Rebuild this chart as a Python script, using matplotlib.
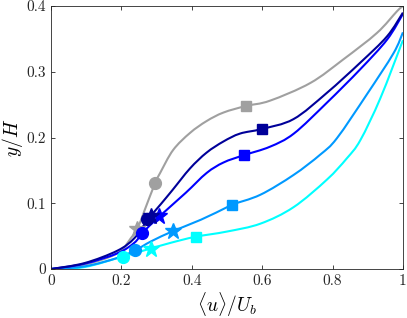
import numpy as np
import matplotlib
matplotlib.use("Agg")
import matplotlib.pyplot as plt
from matplotlib.path import Path
from matplotlib.patches import PathPatch

plt.rcParams["mathtext.fontset"] = "cm"
plt.rcParams["font.family"] = "serif"
plt.rcParams["font.serif"] = ["cmr10"]
plt.rcParams["axes.formatter.use_mathtext"] = True

# curve data: (u/Ub, y/H)
gray_x = [0, 0.095, 0.189, 0.227, 0.246, 0.265, 0.296, 0.310, 0.347, 0.395, 0.442, 0.490, 0.554, 0.622, 0.737, 0.831, 0.926, 0.983, 1.0]
gray_y = [0, 0.0066, 0.024, 0.047, 0.062, 0.088, 0.131, 0.146, 0.181, 0.207, 0.225, 0.238, 0.248, 0.256, 0.283, 0.319, 0.359, 0.392, 0.4]

navy_x = [0, 0.095, 0.189, 0.237, 0.275, 0.3125, 0.345, 0.395, 0.442, 0.490, 0.537, 0.599, 0.689, 0.784, 0.879, 0.955, 1.0]
navy_y = [0, 0.009, 0.028, 0.047, 0.075, 0.099, 0.120, 0.153, 0.177, 0.194, 0.206, 0.213, 0.228, 0.268, 0.314, 0.354, 0.39]

blue_x = [0, 0.095, 0.189, 0.237, 0.260, 0.308, 0.383, 0.442, 0.490, 0.547, 0.622, 0.690, 0.784, 0.879, 0.955, 1.0]
blue_y = [0, 0.008, 0.024, 0.040, 0.055, 0.080, 0.116, 0.146, 0.162, 0.173, 0.186, 0.206, 0.253, 0.304, 0.349, 0.388]

dodger_x = [0, 0.095, 0.189, 0.241, 0.284, 0.348, 0.426, 0.5, 0.514, 0.595, 0.689, 0.765, 0.8125, 0.898, 0.973, 1.0]
dodger_y = [0, 0.004, 0.017, 0.029, 0.042, 0.058, 0.075, 0.094, 0.098, 0.113, 0.143, 0.174, 0.199, 0.266, 0.328, 0.36]

cyan_x = [0, 0.095, 0.204, 0.282, 0.341, 0.410, 0.5, 0.595, 0.689, 0.784, 0.84, 0.879, 0.936, 1.0]
cyan_y = [0, 0.003, 0.019, 0.031, 0.040, 0.049, 0.057, 0.069, 0.094, 0.136, 0.168, 0.196, 0.260, 0.348]

# marker points: circle, star, square
gray_pts = [(0.296, 0.131), (0.244, 0.061), (0.554, 0.248)]
navy_pts = [(0.274, 0.076), (0.284, 0.080), (0.599, 0.213)]
blue_pts = [(0.260, 0.055), (0.308, 0.081), (0.547, 0.173)]
dodger_pts = [(0.240, 0.029), (0.347, 0.058), (0.513, 0.098)]
cyan_pts = [(0.205, 0.019), (0.283, 0.031), (0.411, 0.048)]

curves = [
    (gray_x, gray_y, gray_pts, "#a0a0a0"),
    (cyan_x, cyan_y, cyan_pts, "#00ffff"),
    (dodger_x, dodger_y, dodger_pts, "#0099ff"),
    (blue_x, blue_y, blue_pts, "#0000ff"),
    (navy_x, navy_y, navy_pts, "#000099"),
]


def smooth_path(xs, ys):
    # Catmull-Rom through the read points, as cubic Bezier segments
    p = np.column_stack([xs, ys]).astype(float)
    verts = [p[0]]
    codes = [Path.MOVETO]
    n = len(p)
    for i in range(n - 1):
        p0 = p[i - 1] if i > 0 else p[i]
        p1, p2 = p[i], p[i + 1]
        p3 = p[i + 2] if i + 2 < n else p[i + 1]
        c1 = p1 + (p2 - p0) / 6
        c2 = p2 - (p3 - p1) / 6
        verts += [c1, c2, p2]
        codes += [Path.CURVE4] * 3
    return Path(verts, codes)


fig = plt.figure(figsize=(4.07, 3.18), dpi=100)
ax = fig.add_axes([0.1253, 0.154, 0.8647, 0.827])

for xs, ys, pts, c in curves:
    ax.add_patch(PathPatch(smooth_path(xs, ys), fc="none", ec=c, lw=1.5))
for xs, ys, pts, c in curves:
    ax.plot(pts[0][0], pts[0][1], "o", color=c, ms=8.5, mec=c)
    ax.plot(pts[1][0], pts[1][1], "*", color=c, ms=12, mec=c)
    ax.plot(pts[2][0], pts[2][1], "s", color=c, ms=7.5, mec=c)

ax.set_xlim(0, 1)
ax.set_ylim(0, 0.4)
ax.set_xticks([0, 0.2, 0.4, 0.6, 0.8, 1])
ax.set_xticklabels(["0", "0.2", "0.4", "0.6", "0.8", "1"])
ax.set_yticks([0, 0.1, 0.2, 0.3, 0.4])
ax.set_yticklabels(["0", "0.1", "0.2", "0.3", "0.4"])
ax.tick_params(direction="in", top=True, right=True, labelsize=11, length=3,
               width=0.6, colors="#262626")
for s in ax.spines.values():
    s.set_linewidth(0.6)
    s.set_color("#262626")
ax.set_xlabel(r"$\langle u \rangle / U_b$", fontsize=14, labelpad=2)
ax.set_ylabel(r"$y/H$", fontsize=14, labelpad=1)

fig.savefig("out.png", dpi=100)
